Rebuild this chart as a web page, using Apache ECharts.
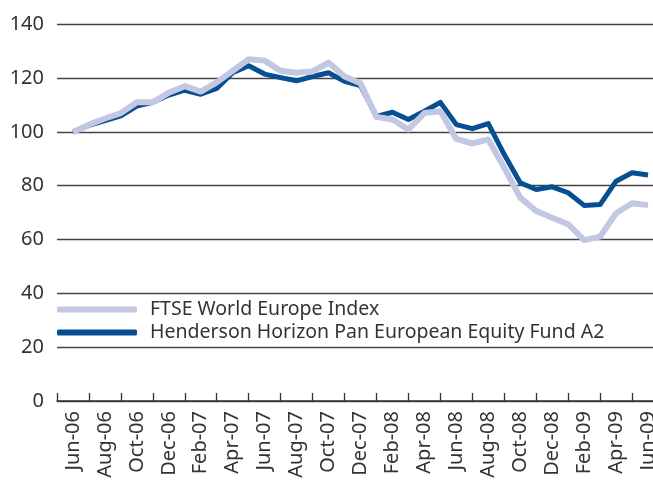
<!DOCTYPE html>
<html>
<head>
<meta charset="utf-8">
<script src="https://cdn.jsdelivr.net/npm/echarts@6/dist/echarts.min.js"></script>
<style>
html,body{margin:0;padding:0;background:#fff;}
#chart{width:653px;height:481px;}
</style>
</head>
<body>
<div id="chart"></div>
<script>
const months = ['Jun-06','Jul-06','Aug-06','Sep-06','Oct-06','Nov-06','Dec-06','Jan-07','Feb-07','Mar-07','Apr-07','May-07',
  'Jun-07','Jul-07','Aug-07','Sep-07','Oct-07','Nov-07','Dec-07','Jan-08','Feb-08','Mar-08','Apr-08','May-08',
  'Jun-08','Jul-08','Aug-08','Sep-08','Oct-08','Nov-08','Dec-08','Jan-09','Feb-09','Mar-09','Apr-09','May-09','Jun-09'];
const ftse = [100,102.7,105,107,111,111,114.6,117,115,118.4,122.7,127,126.5,122.7,122,122.5,125.8,120.6,118.1,105.6,104.6,100.9,107,107.7,97.4,95.7,97.2,86.7,75.6,70.6,68.1,65.7,59.8,61.1,69.8,73.5,72.8];
const henderson = [100,102.4,104.2,106,109.6,111,113.7,115.5,114,116.2,122,124.6,121.5,120.2,119,120.6,122,118.8,117.2,105.8,107.3,104.6,107.7,111,102.7,101.2,103.1,91.6,81.1,78.6,79.6,77.4,72.7,73,81.7,84.8,84];
const seriesNames = ['FTSE World Europe Index','Henderson Horizon Pan European Equity Fund A2'];
const yTicks = {min:0, max:140, interval:20};

// pad with an empty month on each side (axis runs May-06 .. Jul-09)
const cats = ['May-06'].concat(months, ['Jul-09']);
const pad = a => [null].concat(a, [null]);

const font = '"Noto Sans", "Open Sans", sans-serif';
const chart = echarts.init(document.getElementById('chart'), null, {renderer:'canvas'});
chart.setOption({
  animation:false,
  backgroundColor:'#fff',
  grid:{left:57, top:24.3, width:607, height:376.7, containLabel:false, outerBoundsMode:'none'},
  legend:{
    orient:'vertical', left:57, top:298, padding:0, itemGap:0,
    itemWidth:80, itemHeight:6,
    textStyle:{fontFamily:font, fontSize:19.5, color:'#333', lineHeight:23, padding:[0,0,0,8]},
    data:[{name:seriesNames[0], icon:'roundRect'},{name:seriesNames[1], icon:'roundRect'}]
  },
  xAxis:{
    type:'category', data:cats, boundaryGap:false,
    axisLine:{lineStyle:{color:'#333', width:1.5}},
    axisTick:{inside:true, length:8, interval:(i)=>i%2===0, lineStyle:{color:'#333', width:1.3}},
    axisLabel:{rotate:90, interval:(i)=>i%2===1, fontFamily:font, fontSize:20, color:'#333', margin:10, hideOverlap:false},
    splitLine:{show:false}
  },
  yAxis:{
    type:'value', min:yTicks.min, max:yTicks.max, interval:yTicks.interval,
    axisLine:{show:false}, axisTick:{show:false},
    axisLabel:{fontFamily:font, fontSize:20, color:'#333', margin:13},
    splitLine:{lineStyle:{color:'#444', width:1.4}}
  },
  series:[
    {name:seriesNames[0], type:'line', data:pad(ftse), symbol:'none', z:4,
      itemStyle:{color:'#c2c8e2'}, lineStyle:{color:'#c2c8e2', width:6, join:'round'}},
    {name:seriesNames[1], type:'line', data:pad(henderson), symbol:'none', z:3,
      itemStyle:{color:'#064f93'}, lineStyle:{color:'#064f93', width:5, join:'round'}}
  ]
});
</script>
</body>
</html>
